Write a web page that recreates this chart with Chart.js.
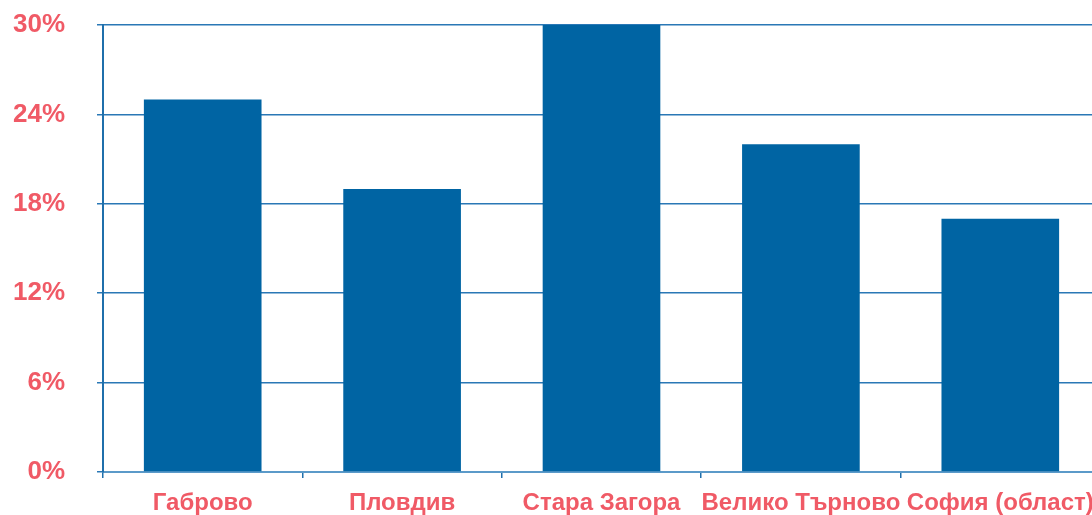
<!DOCTYPE html>
<html>
<head>
<meta charset="utf-8">
<script src="https://cdn.jsdelivr.net/npm/chart.js@4"></script>
<style>
html,body{margin:0;padding:0;background:#fff;overflow:hidden;}
#wrap{width:1100px;height:515px;position:relative;}
</style>
</head>
<body>
<div id="wrap"><canvas id="c"></canvas></div>
<script>
const categories = ["Габрово", "Пловдив", "Стара Загора", "Велико Търново", "София (област)"];
const values = [25, 19, 30, 22, 17];
const yTicks = [0, 6, 12, 18, 24, 30];

const labelColor = '#f05a66';
const barColor = '#0064a3';
const fontFamily = '"Liberation Sans", Arial, sans-serif';

new Chart(document.getElementById('c'), {
  type: 'bar',
  data: {
    labels: categories,
    datasets: [{
      data: values,
      backgroundColor: barColor,
      borderWidth: 0,
      barPercentage: 0.59,
      categoryPercentage: 1.0
    }]
  },
  options: {
    responsive: true,
    maintainAspectRatio: false,
    animation: false,
    layout: { padding: { top: 25, right: 0, left: 0, bottom: 0 } },
    plugins: { legend: { display: false }, tooltip: { enabled: false } },
    scales: {
      x: {
        offset: true,
        afterFit: s => { s.height = 43; s.paddingLeft = 0; s.paddingRight = 0; },
        grid: { drawOnChartArea: false, drawTicks: true, tickLength: 6, offset: true, color: '#1f6fab', lineWidth: 1.5 },
        border: { display: true, color: '#5b9ac9', width: 2 },
        ticks: { color: labelColor, font: { family: fontFamily, size: 24, weight: 'bold' }, padding: 11, maxRotation: 0, autoSkip: false }
      },
      y: {
        min: 0, max: 30,
        afterFit: s => { s.width = 103; s.paddingTop = 0; s.paddingBottom = 0; },
        afterBuildTicks: s => { s.ticks = yTicks.map(v => ({ value: v })); },
        grid: { color: '#2a78b6', lineWidth: 1.5, tickLength: 6, drawTicks: true },
        border: { display: true, color: '#1f6fab', width: 2 },
        ticks: { color: labelColor, font: { family: fontFamily, size: 26, weight: 'bold' }, padding: 32, callback: v => v + '%' }
      }
    }
  }
});
</script>
</body>
</html>
